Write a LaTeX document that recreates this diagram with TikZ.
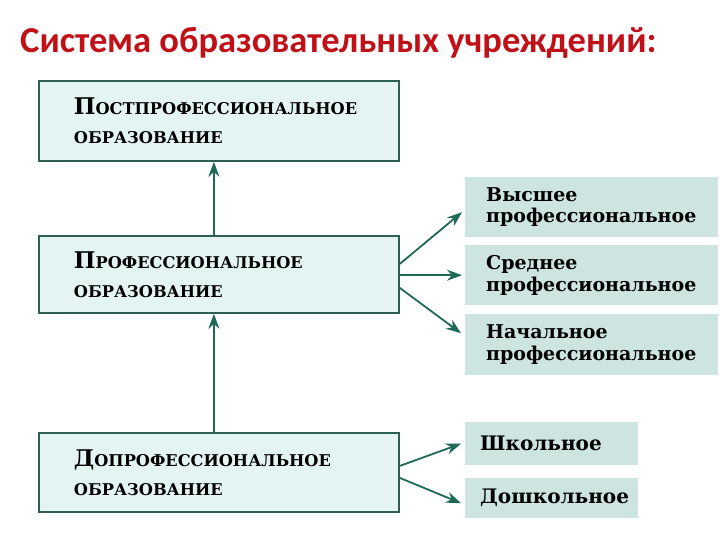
\documentclass[tikz,border=0pt]{standalone}
\usepackage{fontspec}
\setmainfont{DejaVu Serif}
\newfontfamily\titlefont{Carlito}
\usetikzlibrary{arrows.meta}
\definecolor{titlered}{RGB}{192,16,24}
\definecolor{boxfill}{RGB}{228,244,242}
\definecolor{boxline}{RGB}{45,95,85}
\definecolor{arrowc}{RGB}{30,105,88}
\definecolor{shade}{RGB}{206,228,225}
\newcommand\capsfirst[2]{{\fontsize{23}{29}\selectfont #1}#2}
\begin{document}
\begin{tikzpicture}[x=1pt,y=-1pt,
  levelbox/.style={draw=boxline, line width=1.8pt, fill=boxfill, minimum width=360pt,
    text width=290pt, inner xsep=35pt, align=left, anchor=north west,
    font=\bfseries\fontsize{16.2}{29}\selectfont},
  kindbox/.style={fill=shade, anchor=north west, align=left, inner xsep=21pt,
    minimum width=253pt, text width=211pt, font=\bfseries\fontsize{19}{21.5}\selectfont},
  smallkind/.style={kindbox, minimum width=173pt, text width=143pt, inner xsep=15pt,
    font=\bfseries\fontsize{20}{22}\selectfont},
  flow/.style={draw=arrowc, line width=1.8pt, -{Stealth[length=15pt,width=11pt]}}]
\useasboundingbox (0,0) rectangle (720,540);
\fill[white] (0,0) rectangle (720,540);

\node[anchor=base west, inner sep=0pt, text=titlered,
  font=\titlefont\bfseries\fontsize{36.5}{40}\selectfont] (title) at (20,53)
  {Система образовательных учреждений:};

\node[levelbox, minimum height=80pt] (post) at (38,80)
  {\capsfirst{П}{ОСТПРОФЕССИОНАЛЬНОЕ}\\ОБРАЗОВАНИЕ};
\node[levelbox, minimum height=77pt] (prof) at (38,235)
  {\capsfirst{П}{РОФЕССИОНАЛЬНОЕ}\\ОБРАЗОВАНИЕ};
\node[levelbox, minimum height=79pt] (pre) at (38,432)
  {\capsfirst{Д}{ОПРОФЕССИОНАЛЬНОЕ}\\ОБРАЗОВАНИЕ};

\node[kindbox, minimum height=60pt] (high) at (465,177) {Высшее\\профессиональное};
\node[kindbox, minimum height=60pt] (mid) at (465,245) {Среднее\\профессиональное};
\node[kindbox, minimum height=61pt] (init) at (465,314) {Начальное\\профессиональное};
\node[smallkind, minimum height=43pt] (school) at (465,422) {Школьное};
\node[smallkind, minimum height=40pt] (presch) at (465,478) {Дошкольное};

\draw[flow] ([xshift=-5pt]pre.north) -- ([xshift=-5pt]prof.south);
\draw[flow] ([xshift=-5pt]prof.north) -- ([xshift=-5pt]post.south);

\draw[flow] ([yshift=10.5pt]prof.east) -- ([xshift=-3pt,yshift=-5pt]high.west);
\draw[flow] (prof.east |- mid.west) -- ([xshift=-3pt]mid.west);
\draw[flow] ([yshift=-13.5pt]prof.east) -- ([xshift=-4pt,yshift=11.5pt]init.west);

\draw[flow] ([yshift=6.5pt]pre.east) -- ([xshift=-4pt]school.west);
\draw[flow] ([yshift=-5.5pt]pre.east) -- ([xshift=-4pt,yshift=-5pt]presch.west);
\end{tikzpicture}
\end{document}
